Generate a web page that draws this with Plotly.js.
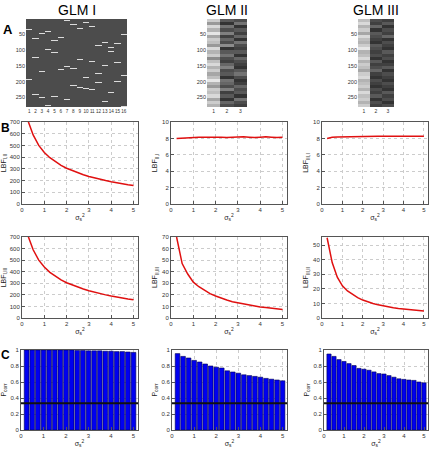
<!DOCTYPE html>
<html><head><meta charset="utf-8">
<script src="https://cdn.plot.ly/plotly-3.0.1.min.js"></script>
<style>html,body{margin:0;padding:0;background:#fff}#plot{width:433px;height:452px}</style>
</head><body><div id="plot"></div>
<script>
// ---------- DATA ----------
const sigma = [0.25,0.5,0.75,1,1.25,1.5,1.75,2,2.25,2.5,2.75,3,3.25,3.5,3.75,4,4.25,4.5,4.75,5];
const lbf_I_II   = [720,590,500,440,395,360,330,305,285,265,250,235,222,210,200,190,180,172,164,157];
const lbf_I_III  = [720,590,500,440,395,360,330,305,285,265,250,235,222,210,200,190,180,172,164,157];
const lbf_II_I   = [8.0,8.05,8.1,8.15,8.15,8.15,8.15,8.2,8.15,8.1,8.15,8.2,8.2,8.15,8.1,8.15,8.2,8.15,8.1,8.15];
const lbf_II_III = [70,47,38,31,27,24,21,19,17,15.5,14,13,12,11,10,9.5,9,8.3,7.8,7.3];
const lbf_III_I  = [8.0,8.15,8.18,8.2,8.22,8.22,8.23,8.24,8.24,8.25,8.25,8.25,8.25,8.25,8.25,8.25,8.25,8.25,8.26,8.26];
const lbf_III_II = [55,38,28,22,18.5,16,14,12.3,11,10,9,8.2,7.6,7,6.5,6.1,5.7,5.4,5.1,4.8];
const pcorr_I   = [1,1,1,1,1,1,1,1,1,0.995,0.995,0.99,0.99,0.99,0.985,0.985,0.98,0.98,0.975,0.97];
const pcorr_II  = [0.955,0.92,0.90,0.87,0.85,0.825,0.80,0.785,0.775,0.74,0.725,0.71,0.69,0.68,0.67,0.66,0.645,0.635,0.625,0.615];
const pcorr_III = [0.95,0.92,0.88,0.857,0.83,0.806,0.77,0.76,0.747,0.726,0.705,0.70,0.68,0.66,0.64,0.633,0.625,0.62,0.60,0.59];
const chanceLevel = 1/3;

// GLM I design matrix: event onset scans per regressor (16 regressors, 280 scans)
const nScans = 280;
const glm1Onsets = [
  [34,114,193],[63,123,240],[45,167,249],[38,98,274],[68,107,246],[57,161,270],
  [4,152,255],[17,157,210],[30,129,216],[12,186,222],[23,135,225],[85,174,202],
  [73,146,262],[90,103,234],[77,138,198],[50,180,277]
];
// GLM II / III parametric regressors, gray level per block of 10 scans (28 blocks)
const glm2Cols = [
  [0.8,0.6,0.85,0.7,0.9,0.65,0.8,0.75,0.6,0.85,0.7,0.8,0.55,0.75,0.85,0.7,0.8,0.65,0.75,0.9,0.7,0.6,0.8,0.75,0.85,0.65,0.8,0.7],
  [0.35,0.2,0.45,0.3,0.5,0.25,0.4,0.3,0.55,0.2,0.35,0.45,0.3,0.25,0.4,0.5,0.3,0.35,0.2,0.45,0.4,0.3,0.5,0.25,0.35,0.2,0.4,0.3],
  [0.3,0.45,0.2,0.35,0.25,0.4,0.2,0.45,0.3,0.25,0.35,0.2,0.4,0.3,0.25,0.2,0.35,0.45,0.3,0.2,0.25,0.4,0.3,0.35,0.2,0.45,0.3,0.25]
];
const glm3Cols = [
  [0.75,0.85,0.7,0.8,0.65,0.85,0.75,0.7,0.8,0.9,0.7,0.75,0.85,0.7,0.8,0.75,0.65,0.8,0.85,0.7,0.75,0.8,0.7,0.85,0.75,0.8,0.7,0.8],
  [0.3,0.25,0.4,0.2,0.35,0.3,0.25,0.2,0.35,0.3,0.25,0.3,0.2,0.35,0.25,0.3,0.4,0.25,0.2,0.3,0.25,0.2,0.3,0.25,0.35,0.2,0.3,0.25],
  [0.25,0.35,0.2,0.3,0.25,0.4,0.2,0.3,0.25,0.2,0.35,0.25,0.3,0.2,0.25,0.35,0.2,0.3,0.25,0.2,0.3,0.25,0.2,0.35,0.25,0.3,0.2,0.3]
];
const glm1Ticks = [1,2,3,4,5,6,7,8,9,10,11,12,13,14,15,16];
const scanTicks = [50,100,150,200,250];

// ---------- build tables ----------
function eventMatrix(onsets){
  const z = [];
  for(let r=0;r<nScans;r++){ z.push(new Array(onsets.length).fill(0)); }
  onsets.forEach((col,c)=>col.forEach(o=>{ for(let k=0;k<3;k++){ if(o+k-1<nScans && o+k-1>=0) z[o+k-1][c]=1; } }));
  return z;
}
function blockMatrix(cols){
  const z=[]; const blk = nScans/cols[0].length;
  for(let r=0;r<nScans;r++){ z.push(cols.map(col=>col[Math.floor(r/blk)])); }
  return z;
}
const rows = Array.from({length:nScans},(_,i)=>i+1);

const W=433,H=452;
function xd(l,r){return [l/W,r/W];}
function yd(t,b){return [1-b/H,1-t/H];}

const F = 'Liberation Sans, Arial, sans-serif';
const gridAx = {showline:true,mirror:true,linecolor:'#555',linewidth:1,ticks:'inside',ticklen:3,tickcolor:'#555',
  showgrid:true,gridcolor:'#cccccc',griddash:'dot',gridwidth:1,zeroline:false,tickangle:0,tickfont:{size:6,family:F,color:'#333'}};

const layout = {width:W,height:H,margin:{l:0,r:0,t:0,b:0},paper_bgcolor:'#fff',plot_bgcolor:'#fff',showlegend:false,
  font:{family:F}, annotations:[], shapes:[]};

// heatmap axes
const hmX = {showgrid:false,zeroline:false,ticks:'',showline:false,tickangle:0,tickfont:{size:5,family:F,color:'#333'}};
const hmY = {showgrid:false,zeroline:false,ticks:'',showline:false,tickvals:scanTicks,tickfont:{size:5.5,family:F,color:'#333'},autorange:false,range:[nScans+0.5,0.5]};
layout.xaxis  = Object.assign({},hmX,{domain:xd(26,127),anchor:'y',range:[0.5,16.5],tickvals:glm1Ticks,tickfont:{size:4.6,family:F,color:'#333'}});
layout.yaxis  = Object.assign({},hmY,{domain:yd(19,107),anchor:'x'});
layout.xaxis2 = Object.assign({},hmX,{domain:xd(207,247),anchor:'y2',range:[0.5,3.5],tickvals:[1,2,3]});
layout.yaxis2 = Object.assign({},hmY,{domain:yd(19,107),anchor:'x2'});
layout.xaxis3 = Object.assign({},hmX,{domain:xd(358,394),anchor:'y3',range:[0.5,3.5],tickvals:[1,2,3]});
layout.yaxis3 = Object.assign({},hmY,{domain:yd(19,107),anchor:'x3'});

const traces = [
  {type:'heatmap',z:eventMatrix(glm1Onsets),x:glm1Ticks,y:rows,xaxis:'x',yaxis:'y',showscale:false,zmin:0,zmax:1,
   colorscale:[[0,'#4c4c4c'],[1,'#dcdcdc']],hoverinfo:'skip'},
  {type:'heatmap',z:blockMatrix(glm2Cols),x:[1,2,3],y:rows,xaxis:'x2',yaxis:'y2',showscale:false,zmin:0,zmax:1,
   colorscale:[[0,'#000'],[1,'#fff']],hoverinfo:'skip'},
  {type:'heatmap',z:blockMatrix(glm3Cols),x:[1,2,3],y:rows,xaxis:'x3',yaxis:'y3',showscale:false,zmin:0,zmax:1,
   colorscale:[[0,'#000'],[1,'#fff']],hoverinfo:'skip'}
];

const sigTitle = {text:'σ<sub>s</sub><sup>2</sup>',font:{size:7,family:F,color:'#222'},standoff:2};
const panels = [
  // [idx, l, r, t, b, data, yrange, dtick, ytitle, kind]
  [4, 22,138,122,204, lbf_I_II,  [0,700],100,'LBF<sub>I,II</sub>','line'],
  [5,171,287,122,204, lbf_II_I,  [0,10],2,'LBF<sub>II,I</sub>','line'],
  [6,322,428,122,204, lbf_III_I, [0,10],2,'LBF<sub>III,I</sub>','line'],
  [7, 22,138,237,318, lbf_I_III, [0,700],100,'LBF<sub>I,III</sub>','line'],
  [8,171,287,237,318, lbf_II_III,[0,70],10,'LBF<sub>II,III</sub>','line'],
  [9,322,428,237,318, lbf_III_II,[0,55.5],10,'LBF<sub>III,II</sub>','line'],
  [10,21,138,350,430, pcorr_I,  [0,1],0.2,'P<sub>corr</sub>','bar'],
  [11,172,287,350,430, pcorr_II, [0,1],0.2,'P<sub>corr</sub>','bar'],
  [12,324,428,350,430, pcorr_III,[0,1],0.2,'P<sub>corr</sub>','bar']
];
panels.forEach(p=>{
  const [i,l,r,t,b,data,yr,dt,yt,kind]=p;
  layout['xaxis'+i] = Object.assign({},gridAx,{domain:xd(l,r),anchor:'y'+i,range:[0,5.2],dtick:1,tick0:0,
     title:sigTitle});
  layout['yaxis'+i] = Object.assign({},gridAx,{domain:yd(t,b),anchor:'x'+i,range:yr,dtick:dt,tick0:0,
     title:{text:yt,font:{size:7,family:F,color:'#222'},standoff:3}});
  if(kind==='line'){
    traces.push({type:'scatter',mode:'lines',x:sigma,y:data,xaxis:'x'+i,yaxis:'y'+i,
      line:{color:'#e01010',width:1.5},hoverinfo:'skip'});
  } else {
    traces.push({type:'bar',x:sigma,y:data,xaxis:'x'+i,yaxis:'y'+i,width:0.21,
      marker:{color:'#0000f0',line:{color:'#000050',width:0.6}},hoverinfo:'skip'});
    layout.shapes.push({type:'line',xref:'x'+i+' domain',x0:0,x1:1,yref:'y'+i,y0:chanceLevel,y1:chanceLevel,
      line:{color:'#111',width:2}});
  }
});

// titles and panel letters
const ann = (text,x,y,size,bold)=>({text:bold?'<b>'+text+'</b>':text,x:x/W,y:1-y/H,xref:'paper',yref:'paper',
  showarrow:false,font:{size:size,family:F,color:'#000'},xanchor:'center',yanchor:'middle'});
layout.annotations.push(ann('GLM I',77,10,14,false));
layout.annotations.push(ann('GLM II',227,10,14,false));
layout.annotations.push(ann('GLM III',376,10,14,false));
layout.annotations.push(ann('A',8,29,13,true));
layout.annotations.push(ann('B',5,128,12,true));
layout.annotations.push(ann('C',5,355,12,true));

Plotly.newPlot('plot',traces,layout,{staticPlot:true,displayModeBar:false});
</script></body></html>
